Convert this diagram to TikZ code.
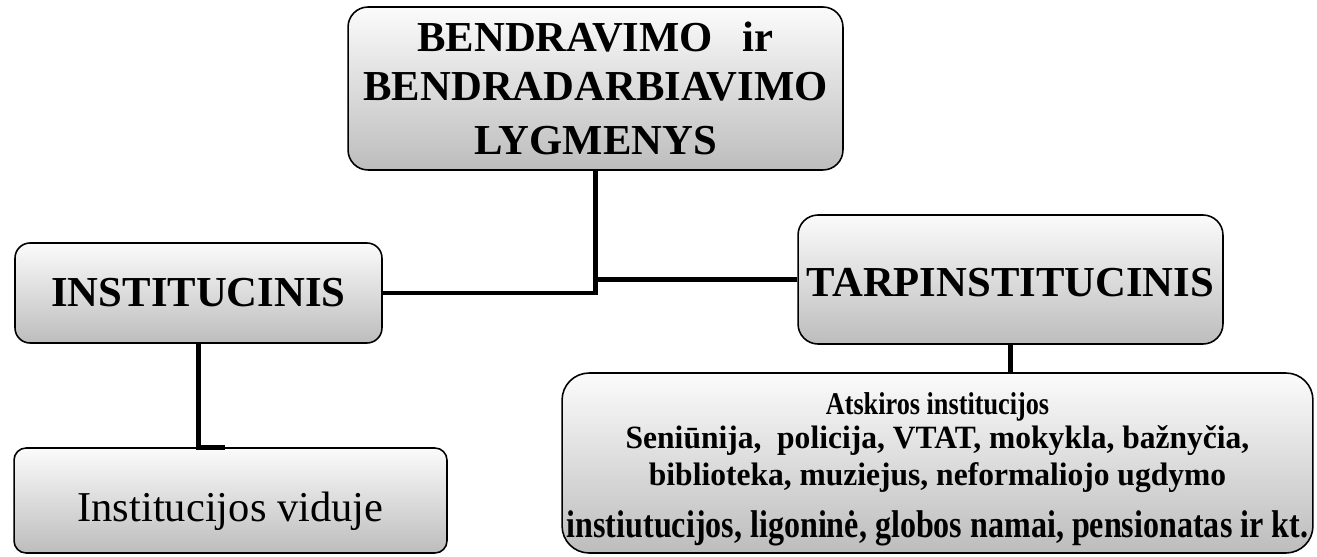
\documentclass[tikz,border=0pt]{standalone}
\usepackage{fontspec}
\setmainfont{Liberation Serif}
\newfontfamily\listfont[FakeStretch=0.97]{Liberation Serif}
\newfontfamily\narrowfont[FakeStretch=0.83]{Liberation Serif}
\tikzset{
  levelbox/.style={draw=black, line width=0.9pt, rounded corners=#1,
    top color=gray!3, bottom color=gray!52, align=center, inner sep=0pt},
  levelbox/.default=0.3cm,
  link/.style={line width=2.8pt}
}
\begin{document}
\begin{tikzpicture}[x=0.02cm,y=-0.02cm]
\useasboundingbox (0,0) rectangle (1317,557);

% levels
\node[levelbox=0.4cm, minimum width=9.9cm, minimum height=3.26cm,
  font=\fontsize{24.3pt}{29.5pt}\selectfont\bfseries] (lygmenys) at (595.5,88.5)
  {BENDRAVIMO\hspace{0.7em}ir\\[-1.7pt]BENDRADARBIAVIMO\\[1.7pt]LYGMENYS};
\node[levelbox=0.3cm, minimum width=7.34cm, minimum height=2cm,
  font=\fontsize{24.3pt}{29.5pt}\selectfont\bfseries] (inst) at (198.5,293) {INSTITUCINIS};
\node[levelbox=0.4cm, minimum width=8.5cm, minimum height=2.58cm, text height=19.8pt, text depth=0pt,
  font=\fontsize{24.3pt}{29.5pt}\selectfont\bfseries] (tarp) at (1010.5,279.5) {TARPINSTITUCINIS};

% lower boxes
\node[levelbox=0.24cm, minimum width=8.66cm, minimum height=2.1cm, text height=24.4pt, text depth=0pt,
  font=\fontsize{24.2pt}{29pt}\selectfont] (viduje) at (230.5,500.5) {Institucijos viduje};
\node[levelbox=0.54cm, minimum width=15.02cm, minimum height=3.6cm] (atskiros) at (937.5,463) {};
\node[align=center, inner sep=0pt, font=\fontsize{18.5pt}{20pt}\selectfont\bfseries]
  (atskirostxt) at (937.5,469.5)
  {{\narrowfont\fontsize{18pt}{20pt}\selectfont Atskiros institucijos}\\[-0.7pt]
   {\listfont Seniūnija,\ \ policija, VTAT, mokykla, bažnyčia,}\\[1pt]
   {\listfont biblioteka, muziejus, neformaliojo ugdymo}\\[10pt]
   {\narrowfont\fontsize{22pt}{20pt}\selectfont instiutucijos, ligoninė, globos namai, pensionatas ir kt.}};

% connectors
\draw[link] (lygmenys.south) |- (inst.east);
\draw[link] (lygmenys.south |- tarp.west) -- (tarp.west);
\draw[link] (tarp.south) -- (tarp.south |- atskiros.north);
\draw[link] (inst.south) -- (inst.south |- viduje.north) -- ++(26,0);
\end{tikzpicture}
\end{document}
